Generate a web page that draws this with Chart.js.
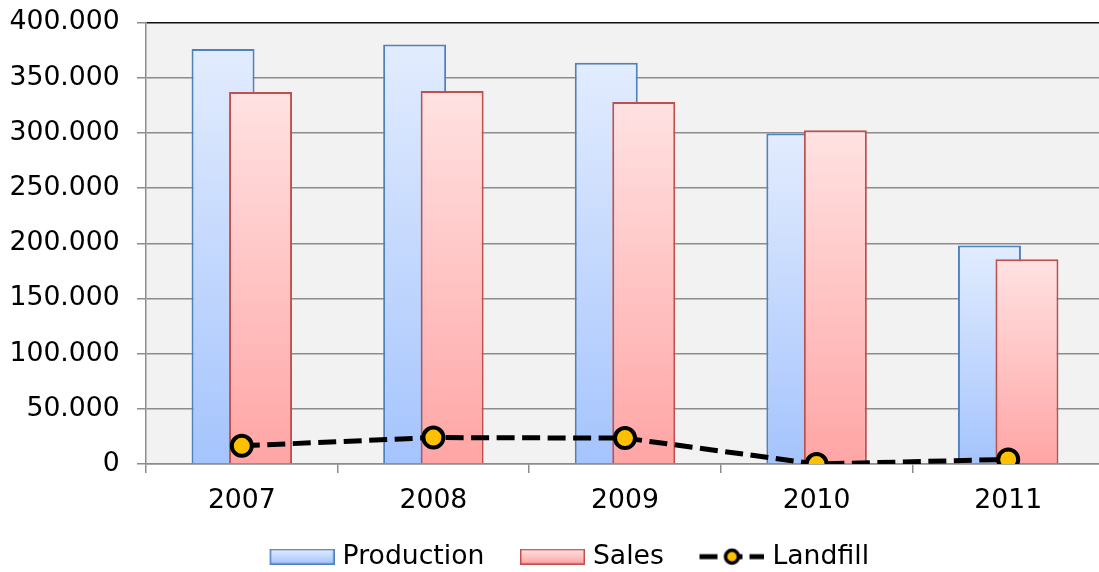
<!DOCTYPE html>
<html>
<head>
<meta charset="utf-8">
<script src="https://cdn.jsdelivr.net/npm/chart.js@4.4.1/dist/chart.umd.min.js"></script>
<style>
  html, body { margin: 0; padding: 0; background: #fff; overflow: hidden; width: 1099px; height: 572px; }
  #wrap { position: absolute; left: 0; top: 0; width: 1118px; height: 580px; }
</style>
</head>
<body>
<div id="wrap"><canvas id="chart" width="1118" height="580"></canvas></div>
<script>
// Yearly figures
const categories = ['2007', '2008', '2009', '2010', '2011'];
const production = [376000, 380000, 363500, 299500, 198000];
const sales      = [337000, 338000, 328000, 302500, 185500];
const landfill   = [16500, 24000, 23500, 0, 4200];

// Value axis range
const yMin = 0;
const yMax = 400000;
const yStep = 50000;

const FONT = { family: "'DejaVu Sans', sans-serif", size: 26.67 };
const GRID_GREY = '#8c8c8c';

// Thousands separated by a dot: 400000 -> "400.000"
function formatThousands(v) {
  return String(v).replace(/\B(?=(\d{3})+(?!\d))/g, '.');
}

// Vertical gradient that spans each individual bar
function barGradient(topColor, bottomColor) {
  return (ctx) => {
    const chart = ctx.chart;
    if (ctx.type !== 'data' || !chart.chartArea || !ctx.parsed) return bottomColor;
    const y = chart.scales.y;
    const yTop = y.getPixelForValue(ctx.parsed.y);
    const yBase = y.getPixelForValue(0);
    if (!isFinite(yTop) || yTop === yBase) return bottomColor;
    const g = chart.ctx.createLinearGradient(0, yTop, 0, yBase);
    g.addColorStop(0, topColor);
    g.addColorStop(1, bottomColor);
    return g;
  };
}

const PROD = { top: '#e2ecfe', bottom: '#a5c4fd', border: '#4f81bd' };
const SALE = { top: '#ffe2e2', bottom: '#ffa5a5', border: '#c0504d' };
const LAND = { line: '#000000', marker: '#ffc000' };

// Legend symbols: 65px wide, drawn right of the image centre so they sit close to their text
const SYM_W = 65;
const SYM_SHIFT = 12.9;
const SYM_CANVAS_W = Math.round(2 * (SYM_SHIFT + SYM_W / 2));
const SYM_X0 = SYM_CANVAS_W - SYM_W;

function legendBox(c) {
  const cv = document.createElement('canvas');
  cv.width = SYM_CANVAS_W; cv.height = 16;
  const g = cv.getContext('2d');
  const grad = g.createLinearGradient(0, 1, 0, 15);
  grad.addColorStop(0, c.top);
  grad.addColorStop(1, c.bottom);
  g.fillStyle = grad;
  g.fillRect(SYM_X0 + 0.75, 0.75, SYM_W - 1.5, 14.5);
  g.strokeStyle = c.border;
  g.lineWidth = 1.5;
  g.strokeRect(SYM_X0 + 0.75, 0.75, SYM_W - 1.5, 14.5);
  return cv;
}
function legendLine(c) {
  const cv = document.createElement('canvas');
  cv.width = SYM_CANVAS_W; cv.height = 22;
  const g = cv.getContext('2d');
  g.strokeStyle = c.line;
  g.lineWidth = 5;
  g.setLineDash([18, 7]);
  g.beginPath();
  g.moveTo(SYM_X0, 11);
  g.lineTo(SYM_X0 + SYM_W, 11);
  g.stroke();
  g.setLineDash([]);
  g.beginPath();
  g.arc(SYM_X0 + SYM_W / 2, 11, 6.5, 0, Math.PI * 2);
  g.fillStyle = c.marker;
  g.fill();
  g.lineWidth = 3.5;
  g.stroke();
  return cv;
}
const legendSymbols = {
  Production: legendBox(PROD),
  Sales: legendBox(SALE),
  Landfill: legendLine(LAND)
};

const PRODUCTION_INDEX = 0;
const SALES_INDEX = 1;

const plotBackground = {
  id: 'plotBackground',
  beforeDraw(chart) {
    const { ctx, chartArea: a } = chart;
    ctx.save();
    ctx.fillStyle = '#f2f2f2';
    ctx.fillRect(a.left, a.top, a.right - a.left, a.bottom - a.top);
    ctx.restore();
  }
};

// Sales bars overlap the Production bars: paint them right after Production
const salesOverProduction = {
  id: 'salesOverProduction',
  beforeDatasetDraw(chart, args) {
    if (args.index === SALES_INDEX) return false;
  },
  afterDatasetDraw(chart, args) {
    if (args.index === PRODUCTION_INDEX && chart.isDatasetVisible(SALES_INDEX)) {
      const a = chart.chartArea;
      const ctx = chart.ctx;
      ctx.save();
      ctx.beginPath();
      ctx.rect(a.left, a.top - 2, a.right - a.left, a.bottom - a.top + 4);
      ctx.clip();
      chart.getDatasetMeta(SALES_INDEX).controller.draw();
      ctx.restore();
    }
  }
};

new Chart(document.getElementById('chart'), {
  type: 'bar',
  data: {
    labels: categories,
    datasets: [
      {
        label: 'Production',
        data: production,
        order: 1,
        backgroundColor: barGradient(PROD.top, PROD.bottom),
        borderColor: PROD.border,
        borderWidth: 2,
        categoryPercentage: 0.3914,
        barPercentage: 1.68
      },
      {
        label: 'Sales',
        data: sales,
        order: 2,
        backgroundColor: barGradient(SALE.top, SALE.bottom),
        borderColor: SALE.border,
        borderWidth: 2,
        categoryPercentage: 0.3914,
        barPercentage: 1.68
      },
      {
        type: 'line',
        label: 'Landfill',
        data: landfill,
        order: 0,
        borderColor: LAND.line,
        borderWidth: 5,
        borderDash: [18, 7.5],
        tension: 0,
        fill: false,
        pointRadius: 10,
        pointHoverRadius: 10,
        pointBorderWidth: 4,
        pointBackgroundColor: LAND.marker,
        pointBorderColor: LAND.line
      }
    ]
  },
  options: {
    responsive: false,
    animation: false,
    devicePixelRatio: 1,
    layout: { padding: { left: 0, top: 22.5, right: 0, bottom: 0 } },
    plugins: {
      tooltip: { enabled: false },
      legend: {
        position: 'bottom',
        labels: {
          usePointStyle: true,
          pointStyleWidth: 80.3,
          padding: 14.9,
          color: '#000',
          font: FONT,
          generateLabels: (chart) => chart.data.datasets.map((ds, i) => ({
            text: ds.label,
            datasetIndex: i,
            pointStyle: legendSymbols[ds.label],
            fillStyle: 'transparent',
            strokeStyle: 'transparent',
            lineWidth: 0,
            fontColor: '#000',
            hidden: !chart.isDatasetVisible(i)
          })),
          sort: (a, b) => a.datasetIndex - b.datasetIndex
        }
      }
    },
    scales: {
      x: {
        type: 'category',
        offset: true,
        grid: {
          offset: true,
          drawOnChartArea: false,
          drawTicks: true,
          tickLength: 9,
          color: GRID_GREY,
          lineWidth: 1.5
        },
        border: { color: GRID_GREY, width: 1.5 },
        ticks: {
          padding: 10,
          color: '#000',
          font: { ...FONT, lineHeight: 1.327 },
          maxRotation: 0,
          autoSkip: false
        }
      },
      y: {
        min: yMin,
        max: yMax,
        ticks: {
          stepSize: yStep,
          padding: 17.3,
          color: '#000',
          font: { ...FONT, lineHeight: 0.35 },
          callback: (v) => formatThousands(v)
        },
        grid: {
          color: (c) => (c.tick && c.tick.value === yMax ? '#111' : GRID_GREY),
          tickColor: GRID_GREY,
          tickLength: 9,
          lineWidth: 1.5
        },
        border: { color: GRID_GREY, width: 1.5 },
        afterFit: (scale) => { scale.width = 146; }
      },
      // empty strip on the right so the plot ends where the legend expects it
      yRightSpace: {
        position: 'right',
        display: true,
        grid: { display: false, drawTicks: false },
        border: { display: false },
        ticks: { display: false },
        afterFit: (scale) => { scale.width = 14; }
      }
    }
  },
  plugins: [plotBackground, salesOverProduction]
});
</script>
</body>
</html>
